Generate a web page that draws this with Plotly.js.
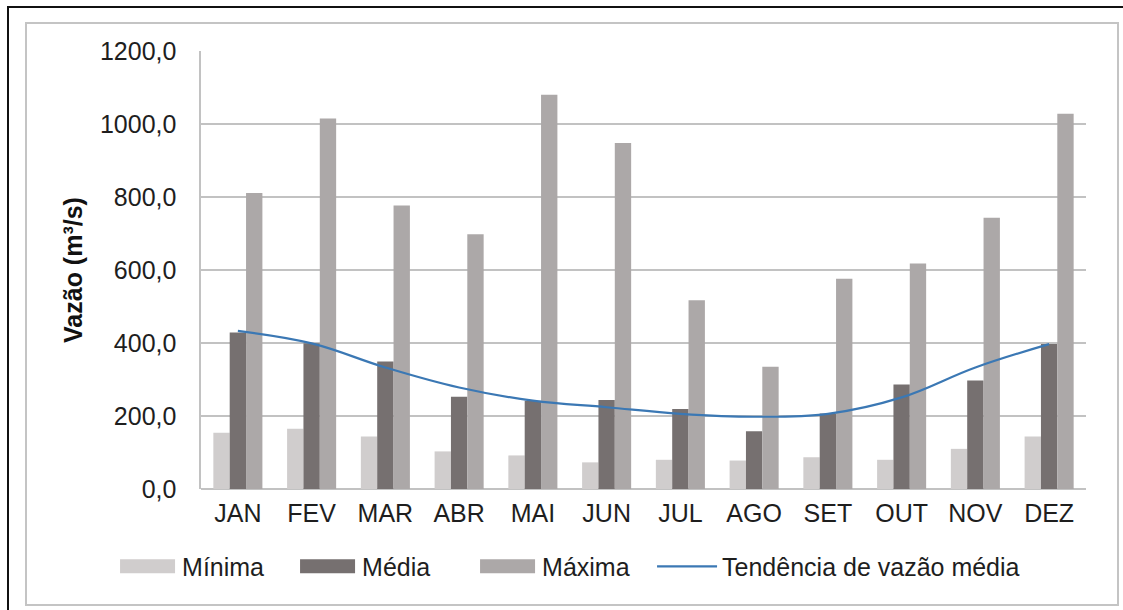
<!DOCTYPE html>
<html>
<head>
<meta charset="utf-8">
<script src="https://cdn.plot.ly/plotly-3.0.1.min.js"></script>
<style>
  html, body { margin: 0; padding: 0; background: #ffffff; }
  #wrap { position: relative; width: 1123px; height: 610px; overflow: hidden; }
  #outer { position: absolute; left: 7px; top: 6px; width: 1116px; height: 604px;
           border-top: 2px solid #111; border-left: 2px solid #111; box-sizing: border-box; }
  #inner { position: absolute; left: 25px; top: 22px; width: 1094px; height: 584px;
           border: 2px solid #c4c4c4; box-sizing: border-box; }
  #chart { position: absolute; left: 0; top: 0; width: 1123px; height: 610px; }
</style>
</head>
<body>
<div id="wrap">
  <div id="outer"></div>
  <div id="inner"></div>
  <div id="chart"></div>
</div>
<script>
const months = ["JAN","FEV","MAR","ABR","MAI","JUN","JUL","AGO","SET","OUT","NOV","DEZ"];
const minima = [154, 165, 144, 103, 92, 73, 80, 78, 87, 80, 110, 144];
const media  = [429, 399, 349, 253, 242, 244, 219, 158, 207, 286, 297, 397];
const maxima = [811, 1015, 777, 698, 1080, 948, 517, 335, 576, 618, 743, 1028];
const tendencia = [433, 399, 333, 278, 242, 224, 206, 198, 206, 251, 333, 397];
const yTickVals = [0, 200, 400, 600, 800, 1000, 1200];
const yTickText = ["0,0", "200,0", "400,0", "600,0", "800,0", "1000,0", "1200,0"];

const fontFam = "Liberation Sans, Arial, sans-serif";
const textColor = "#1e1e1e";

const traces = [
  { type: "bar", name: "Mínima", x: months, y: minima, marker: { color: "#d0cdcd" } },
  { type: "bar", name: "Média", x: months, y: media, marker: { color: "#767070" } },
  { type: "bar", name: "Máxima", x: months, y: maxima, marker: { color: "#aca8a8" } },
  { type: "scatter", mode: "lines", name: "Tendência de vazão média", x: months, y: tendencia,
    line: { color: "#3b78b4", width: 2.2, shape: "spline", smoothing: 1.1 } }
];

const layout = {
  width: 1123, height: 610,
  paper_bgcolor: "rgba(0,0,0,0)", plot_bgcolor: "rgba(0,0,0,0)",
  margin: { l: 201, r: 37, t: 51, b: 121, pad: 0 },
  barmode: "group", bargap: 0.335, bargroupgap: 0,
  font: { family: fontFam, color: textColor },
  showlegend: true,
  legend: {
    orientation: "h", x: -0.1005, xanchor: "left", y: -0.177, yanchor: "middle",
    font: { size: 25, family: fontFam, color: textColor },
    itemwidth: 60, entrywidth: 105, entrywidthmode: "pixels",
    traceorder: "normal", bgcolor: "rgba(0,0,0,0)"
  },
  xaxis: {
    type: "category", showgrid: false, zeroline: false, showline: false,
    ticks: "", tickfont: { size: 25, family: fontFam, color: textColor },
    ticklabelstandoff: 7, fixedrange: true
  },
  yaxis: {
    range: [0, 1200], tickvals: yTickVals, ticktext: yTickText,
    showgrid: true, gridcolor: "#c2c2c2", gridwidth: 1.6,
    zeroline: true, zerolinecolor: "#c2c2c2", zerolinewidth: 1.6,
    showline: true, linecolor: "#c2c2c2", linewidth: 1.6,
    ticks: "", tickfont: { size: 25, family: fontFam, color: textColor },
    ticklabelstandoff: 18,
    title: { text: "Vazão (m³/s)", font: { size: 25, family: fontFam, color: "#111", weight: "bold" }, standoff: 10 },
    automargin: false, fixedrange: true
  }
};

function widenLegendSwatches(gd) {
  const items = gd.querySelectorAll(".legend .traces");
  items.forEach(function (item, i) {
    const trace = traces[i];
    if (!trace) return;
    if (trace.type === "bar") {
      item.querySelectorAll(".legendpoints path").forEach(function (p) {
        p.setAttribute("d", "M-27,7H28V-7H-27Z");
      });
    }
  });
  gd.querySelectorAll(".legend .scrollbox").forEach(function (s) { s.removeAttribute("clip-path"); });
  gd.querySelectorAll(".legend").forEach(function (s) { s.removeAttribute("clip-path"); });
}

const gd = document.getElementById("chart");
Plotly.newPlot(gd, traces, layout, { displayModeBar: false, staticPlot: true }).then(function () {
  widenLegendSwatches(gd);
  gd.on("plotly_afterplot", function () { widenLegendSwatches(gd); });
});
</script>
</body>
</html>
